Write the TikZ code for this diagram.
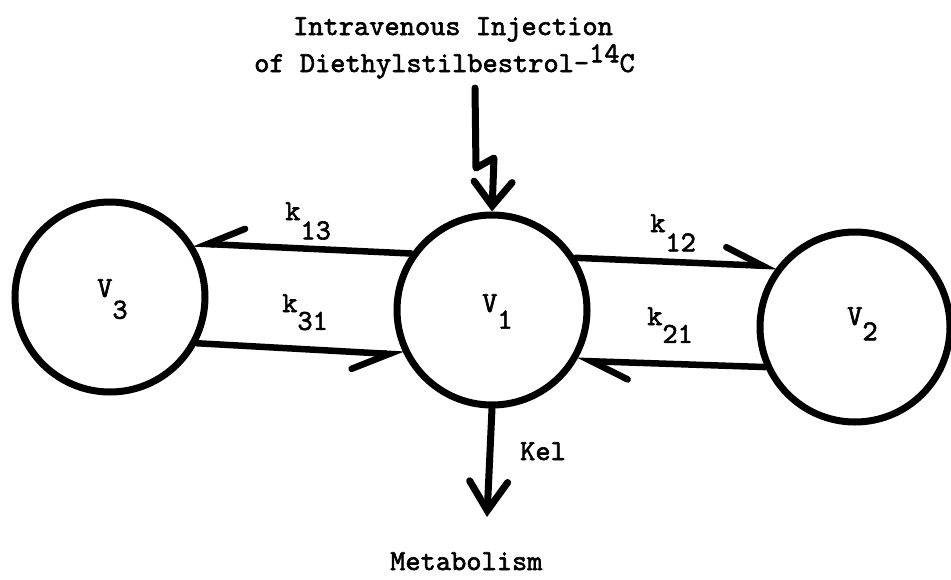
\documentclass[tikz,border=0pt]{standalone}
\usepackage{fontspec}
\newfontfamily\tw{lmmono10-regular.otf}[FakeBold=2]
\usetikzlibrary{arrows.meta}
\newcommand{\sbd}[2]{\raisebox{-#1}{#2}}
\newcommand{\spu}[1]{\raisebox{9.7pt}{#1}}
\begin{document}
\begin{tikzpicture}[x=1pt,y=-1pt,
  comp/.style={circle,draw,line width=7pt,minimum size=190pt,inner sep=0pt},
  txt/.style={font=\tw\fontsize{29}{34}\selectfont,inner sep=0pt,anchor=base west},
  flowL/.style={line width=6.5pt,line cap=round,-{Straight Barb[length=37pt,width=34pt,harpoon,line cap=round]}},
  flowR/.style={line width=6.5pt,line cap=round,-{Straight Barb[length=37pt,width=34pt,harpoon,swap,line cap=round]}},
  dose/.style={line width=7pt,line cap=round,line join=round,-{Straight Barb[length=24pt,width=38pt,line cap=round]}},
  elim/.style={line width=7pt,line cap=round,-{Straight Barb[length=29pt,width=38pt,line cap=round]}}]
\fill[white] (0,0) rectangle (951,579);
\useasboundingbox (0,0) rectangle (951,579);

% compartments
\node[comp] (v3) at (110,297) {};
\node[comp] (v1) at (492,310) {};
\node[comp] (v2) at (855,327) {};

% compartment labels
\node[txt] (lv3) at (97,297) {V\sbd{21.7pt}{3}};
\node[txt] (lv1) at (482,312) {V\sbd{16.6pt}{1}};
\node[txt] (lv2) at (847,325) {V\sbd{15.3pt}{2}};

% title
\node[txt,anchor=base] (t1) at (453,35) {Intravenous Injection};
\node[txt] (t2) at (254,72) {of Diethylstilbestrol-\spu{14}C};

% injection (lightning) arrow
\coordinate (inj) at (475,88);
\coordinate (z1) at (476,168);
\coordinate (z2) at (494,158);
\draw[dose] (inj) -- (z1) -- (z2) -- (v1.north);

% exchange arrows
\draw[flowR] (v1.145) -- (v3.33);
\draw[flowR] (v3.-28) -- (v1.207);
\draw[flowL] (v1.32) -- (v2.142);
\draw[flowL] (v2.204) -- (v1.-31);

% rate labels
\node[txt] (k13) at (285,220) {k\sbd{19.4pt}{13}};
\node[txt] (k31) at (282,312) {k\sbd{17.9pt}{31}};
\node[txt] (k12) at (650,232) {k\sbd{19.4pt}{12}};
\node[txt] (k21) at (647,325) {k\sbd{17.9pt}{21}};

% elimination
\coordinate (met) at (487,517);
\draw[elim] (v1.south) -- (met);
\node[txt] (kel) at (520,460) {Kel};
\node[txt] (metab) at (390,570) {Metabolism};
\end{tikzpicture}
\end{document}
